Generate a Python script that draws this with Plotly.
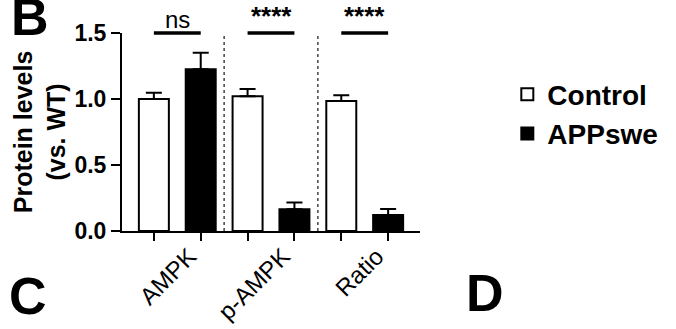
import plotly.graph_objects as go

groups = ["AMPK", "p-AMPK", "Ratio"]
series_names = ["Control", "APPswe"]
control_mean = [1.00, 1.02, 0.985]
control_sem = [0.048, 0.055, 0.043]
appswe_mean = [1.225, 0.165, 0.121]
appswe_sem = [0.126, 0.05, 0.046]
significance = ["ns", "****", "****"]
y_ticks = [0.0, 0.5, 1.0, 1.5]
y_ticktext = ["0.0", "0.5", "1.0", "1.5"]
panel_letters = ["B", "C", "D"]

FONT = "Liberation Sans, Arial, sans-serif"

ctrl_x = [2 * i for i in range(len(groups))]
app_x = [2 * i + 1 for i in range(len(groups))]
all_x = sorted(ctrl_x + app_x)
group_x = [2 * i + 0.5 for i in range(len(groups))]

fig = go.Figure()
fig.add_trace(go.Bar(
    x=ctrl_x, y=control_mean, name=series_names[0], width=0.64,
    marker=dict(color="white", line=dict(color="black", width=2)),
    error_y=dict(type="data", array=control_sem, arrayminus=[0] * 3,
                 symmetric=False, color="black", thickness=2, width=8),
))
fig.add_trace(go.Bar(
    x=app_x, y=appswe_mean, name=series_names[1], width=0.64,
    marker=dict(color="black", line=dict(color="black", width=2)),
    error_y=dict(type="data", array=appswe_sem, arrayminus=[0] * 3,
                 symmetric=False, color="black", thickness=2, width=8),
))

shapes = []
for b in [1.5, 3.5]:
    shapes.append(dict(type="line", xref="x", yref="y domain", x0=b, x1=b, y0=0, y1=1,
                       line=dict(color="#444", width=1.5, dash="dot")))
annotations = []
for i, s in enumerate(significance):
    shapes.append(dict(type="line", xref="x", yref="y domain", x0=ctrl_x[i], x1=app_x[i],
                       y0=1, y1=1, line=dict(color="black", width=3.5)))
    if s == "ns":
        annotations.append(dict(x=group_x[i], y=1.5, xref="x", yref="y", text=s,
                                showarrow=False, yanchor="bottom", yshift=-2,
                                font=dict(family=FONT, size=24, color="black")))
    else:
        annotations.append(dict(x=group_x[i], y=1.5, xref="x", yref="y", text=s,
                                showarrow=False, yanchor="bottom", yshift=0,
                                font=dict(family=FONT, size=26, color="black", weight="bold")))

letter_pos = [(-0.309, 1.083), (-0.314, -0.326), (1.217, -0.315)]
for letter, (px, py) in zip(panel_letters, letter_pos):
    annotations.append(dict(x=px, y=py, xref="paper", yref="paper", text=letter,
                            showarrow=False, xanchor="center", yanchor="middle",
                            font=dict(family=FONT, size=52, color="black", weight="bold")))

fig.update_layout(
    width=676, height=329,
    margin=dict(l=122, r=256, t=33, b=98, autoexpand=False),
    paper_bgcolor="white", plot_bgcolor="white",
    barmode="overlay",
    showlegend=True,
    legend=dict(x=1.293, y=0.816, xanchor="left", yanchor="top",
                font=dict(family=FONT, size=28, color="black", weight="bold"),
                bgcolor="rgba(0,0,0,0)", itemclick=False),
    shapes=shapes, annotations=annotations,
    font=dict(family=FONT, color="black"),
)
fig.update_xaxes(
    range=[-0.68, 5.68], showgrid=False, zeroline=False, automargin=False,
    showline=True, linecolor="black", linewidth=2,
    tickmode="array", tickvals=group_x, ticktext=groups, ticks="",
    tickangle=-45, ticklabelshift=12,
    tickfont=dict(family=FONT, size=24, color="black"),
    minor=dict(tickmode="array", tickvals=all_x, ticks="outside", ticklen=8,
               tickwidth=2, tickcolor="black"),
)
fig.update_yaxes(
    range=[0, 1.5], showgrid=False, zeroline=False, automargin=False,
    showline=True, linecolor="black", linewidth=2,
    tickmode="array", tickvals=y_ticks, ticktext=y_ticktext,
    ticks="outside", ticklen=9, tickwidth=2, tickcolor="black",
    tickfont=dict(family=FONT, size=23, color="black", weight="bold"),
    title=dict(text="Protein levels<br>(vs. WT)", standoff=2,
               font=dict(family=FONT, size=25, color="black", weight="bold")),
)

fig.write_html("out.html", config={"displayModeBar": False},
               post_script="document.body.style.margin='0';")
